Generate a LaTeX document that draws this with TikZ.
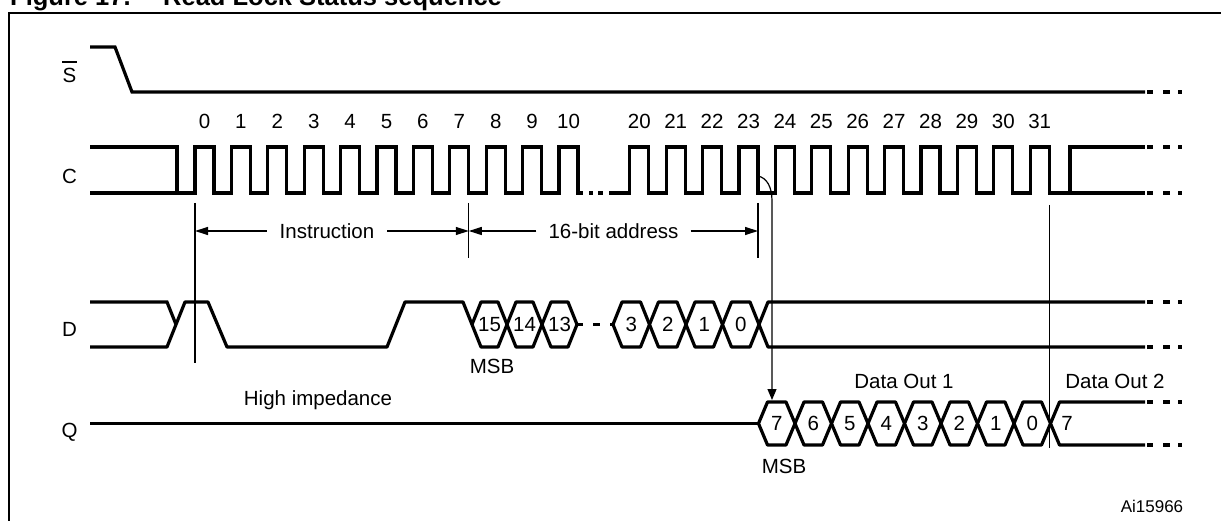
\documentclass[tikz,border=0pt]{standalone}
\usepackage{fontspec}
\newfontfamily\arial{Liberation Sans}
\usetikzlibrary{arrows.meta}
\newcommand\sigtail[1]{\draw[sig] (1147,#1)--(1153,#1) (1163,#1)--(1170,#1) (1178,#1)--(1182,#1);}
\newcommand\buscell[6]{%
  \pgfmathsetmacro\ca{#1}\pgfmathsetmacro\cb{#2}%
  \pgfmathsetmacro\cm{(#3+#4)/2}\pgfmathsetmacro\cx{(\ca+\cb)/2}%
  \draw[bus] (\ca,\cm) -- ({\ca+9},#3) -- ({\cb-9},#3) -- (\cb,\cm) -- ({\cb-9},#4) -- ({\ca+9},#4) -- cycle;
  \node[lbl, anchor=base] (#6) at (\cx,{\cm+7.4}) {#5};}
\begin{document}
\begin{tikzpicture}[x=1pt,y=-1pt,
  sig/.style={line width=3.2pt},
  bus/.style={line width=3.2pt, line join=round},
  thin/.style={line width=1.2pt},
  lbl/.style={font=\arial\fontsize{20.5}{24}\selectfont, inner sep=0pt},
  small/.style={font=\arial\fontsize{17}{20}\selectfont, inner sep=0pt},
  ttl/.style={font=\arial\bfseries\fontsize{25.5}{30}\selectfont, inner sep=0pt},
  dimarrow/.style={thin, -{Triangle[length=13pt,width=8pt]}},
]
\useasboundingbox (0,0) rectangle (1221,521);
% title and frame
\node[ttl, anchor=base west] (t1) at (10,6) {Figure 17.};
\node[ttl, anchor=base west] (t2) at (163,6) {Read Lock Status sequence};
\draw[line width=2pt] (9,13) rectangle (1224,524);

% signal names
\node[lbl, anchor=base] (sl) at (69.5,83) {S};
\draw[line width=1.5pt] (62,62) -- (77,62);
\node[lbl, anchor=base] (cl) at (69.5,183.5) {C};
\node[lbl, anchor=base] (dl) at (69.5,337) {D};
\node[lbl, anchor=base] (ql) at (69.5,437) {Q};

% S
\draw[sig] (90,47) -- (115,47) -- (132,92) -- (1145,92);
\sigtail{92}

% C
\draw[sig] (90,147) -- (177,147) -- (177,193);
\draw[sig] (90,193) \foreach \k in {0,...,10}{ -- ({195+36.4*\k},193) -- ({195+36.4*\k},147) -- ({214+36.4*\k},147) -- ({214+36.4*\k},193)} -- (583,193);
\draw[sig] (589,193) -- (593,193) (598,193) -- (603,193);
\draw[sig] (609,193) \foreach \k in {0,...,11}{ -- ({629.8+36.4*\k},193) -- ({629.8+36.4*\k},147) -- ({648.8+36.4*\k},147) -- ({648.8+36.4*\k},193)} -- (1070,193) -- (1070,147) -- (1145,147);
\draw[sig] (1068,193) -- (1145,193);
\sigtail{147}\sigtail{193}
\foreach \k in {0,...,10} \node[lbl, anchor=base] (ca\k) at ({204.5+36.4*\k},128.5) {\k};
\foreach \k in {20,...,31} \node[lbl, anchor=base] (cb\k) at ({639.3+36.4*(\k-20)},128.5) {\k};

% timing markers
\coordinate (m0) at (195,231);
\coordinate (m7) at (468.8,231);
\coordinate (m23) at (758,231);
\draw[thin] (195,203) -- (195,363);
\draw[thin] (468.8,203) -- (468.8,258);
\draw[thin] (758,203) -- (758,258);
\draw[thin] (1049.5,205) -- (1049.5,448);
\node[lbl, inner xsep=13pt] (instr) at (327,231) {Instruction};
\draw[dimarrow] (instr.west) -- (m0);
\draw[dimarrow] (instr.east) -- (m7);
\node[lbl, inner xsep=12pt] (addr) at (613.5,231) {16-bit address};
\draw[dimarrow] (addr.west) -- (m7);
\draw[dimarrow] (addr.east) -- (m23);

% D
\draw[sig] (90,302) -- (167,302) -- (176,324.5);
\draw[sig, line join=round] (90,347) -- (167,347) -- (185,302) -- (208,302) -- (227,347) -- (387,347) -- (405,302) -- (463,302) -- (472,324.5);
\buscell{472}{507}{302}{347}{15}{d15}
\buscell{507}{542}{302}{347}{14}{d14}
\buscell{542}{577}{302}{347}{13}{d13}
\draw[sig] (577,324.5) -- (583,324.5) (593,324.5) -- (600,324.5) (610,324.5) -- (613,324.5);
\buscell{613}{649.5}{302}{347}{3}{d3}
\buscell{649.5}{686}{302}{347}{2}{d2}
\buscell{686}{722.5}{302}{347}{1}{d1}
\buscell{722.5}{759}{302}{347}{0}{d0}
\draw[sig, line join=round] (1145,302) -- (768,302) -- (759,324.5) -- (768,347) -- (1145,347);
\sigtail{302}\sigtail{347}
\node[lbl, anchor=base] (msbd) at (492,373) {MSB};

% Q
\draw[sig] (90,423.5) -- (758.5,423.5);
\foreach \i/\t in {0/7,1/6,2/5,3/4,4/3,5/2,6/1,7/0}{
  \buscell{758.5+36.5*\i}{758.5+36.5*(\i+1)}{402}{445}{\t}{q\i}
}
\draw[sig, line join=round] (1145,402) -- (1059.5,402) -- (1050.5,423.5) -- (1059.5,445) -- (1145,445);
\sigtail{402}\sigtail{445}
\node[lbl, anchor=base] (q2b7) at (1067,430.9) {7};
\node[lbl, anchor=base] (msbq) at (784,473) {MSB};
\node[lbl, anchor=base] (do1) at (904,388) {Data Out 1};
\node[lbl, anchor=base] (do2) at (1115,388) {Data Out 2};
\node[lbl, anchor=base] (hiz) at (318,405) {High impedance};
\node[small, anchor=base] (ref) at (1152,512) {Ai15966};

% output delay arrow
\coordinate (f23) at (758,176);
\coordinate (qtop) at (772,400);
\draw[thin, -{Triangle[length=11pt,width=9pt]}] (f23) .. controls (767,178) and (772,187) .. (772,201) -- (qtop);
\end{tikzpicture}
\end{document}
